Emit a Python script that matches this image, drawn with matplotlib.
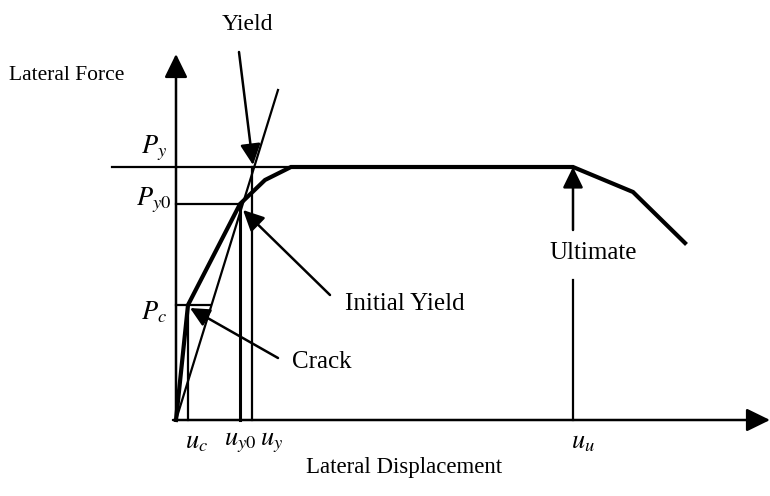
#!/usr/bin/env python3

from matplotlib import pyplot as plt

# schematic force-displacement curve (arbitrary units, origin at axes corner)
curve_u = [0, 12, 64, 89, 115, 397, 457, 509]
curve_p = [0, 115, 216, 240, 253, 253, 228, 177]

# characteristic points
u_c, u_y0, u_y, u_u = 12, 64, 76, 397
P_c, P_y0, P_y = 115, 216, 253

# secant (yield stiffness) line from origin
secant_u = [0, 102]
secant_p = [0, 330]

tick_labels = [r'$u_c$', r'$u_{y0}$', r'$u_y$', r'$u_u$']
tick_pos = [21, 64, 96, 407]
force_labels = [r'$P_y$', r'$P_{y0}$', r'$P_c$']
force_pos = [272, 220, 108]


def arrow(ax, start, end, ms=30):
    ax.annotate('', xy=end, xytext=start, annotation_clip=False,
                arrowprops=dict(arrowstyle='-|>,head_length=0.45,head_width=0.22',
                                mutation_scale=ms, color='black', lw=1.8,
                                shrinkA=0, shrinkB=0))


def main():
    plt.rcParams['font.family'] = ['Liberation Serif', 'DejaVu Serif']
    plt.rcParams['mathtext.fontset'] = 'stix'

    fig = plt.figure(figsize=(7.7, 4.96), dpi=100)
    ax = fig.add_axes([0, 0, 1, 1])
    ax.set_xlim(-176, 594)
    ax.set_ylim(-76, 420)
    ax.axis('off')

    # axes with arrows
    arrow(ax, (0, 0), (0, 366), ms=32)
    arrow(ax, (-3, 0), (594, 0), ms=32)

    # guide lines
    ax.plot([-64, 116], [P_y, P_y], color='black', lw=1.6)
    ax.plot([0, u_y0], [P_y0, P_y0], color='black', lw=1.6)
    ax.plot([0, 34], [P_c, P_c], color='black', lw=1.6)
    ax.plot([u_c, u_c], [0, P_c], color='black', lw=1.6)
    ax.plot([u_y0, u_y0], [0, P_y0], color='black', lw=2.2)
    ax.plot([u_y, u_y], [0, P_y], color='black', lw=1.6)
    ax.plot(secant_u, secant_p, color='black', lw=1.6)

    # main curve
    ax.plot(curve_u, curve_p, color='black', lw=3.0, solid_joinstyle='miter')

    # annotations
    ax.text(71, 396, 'Yield', ha='center', va='center', fontsize=17)
    arrow(ax, (63, 368), (77, 255), ms=28)
    ax.text(169, 116, 'Initial Yield', ha='left', va='center', fontsize=18)
    arrow(ax, (154, 125), (67, 210), ms=28)
    ax.text(116, 58, 'Crack', ha='left', va='center', fontsize=18)
    arrow(ax, (102, 62), (14, 112), ms=26)
    ax.text(417, 167, 'Ultimate', ha='center', va='center', fontsize=18)
    ax.plot([u_u, u_u], [0, 140], color='black', lw=1.6)
    arrow(ax, (u_u, 190), (u_u, P_y), ms=28)

    ax.text(-109, 345, 'Lateral Force', ha='center', va='center', fontsize=15.5)
    ax.text(228, -48, 'Lateral Displacement', ha='center', va='center', fontsize=16.5)

    for lab, y in zip(force_labels, force_pos):
        ax.text(-22, y, lab, ha='center', va='center', fontsize=19)
    for lab, x in zip(tick_labels, tick_pos):
        ax.text(x, -23, lab, ha='center', va='center', fontsize=19)

    plt.savefig('out.png', dpi=100)


if __name__ == '__main__':
    main()
